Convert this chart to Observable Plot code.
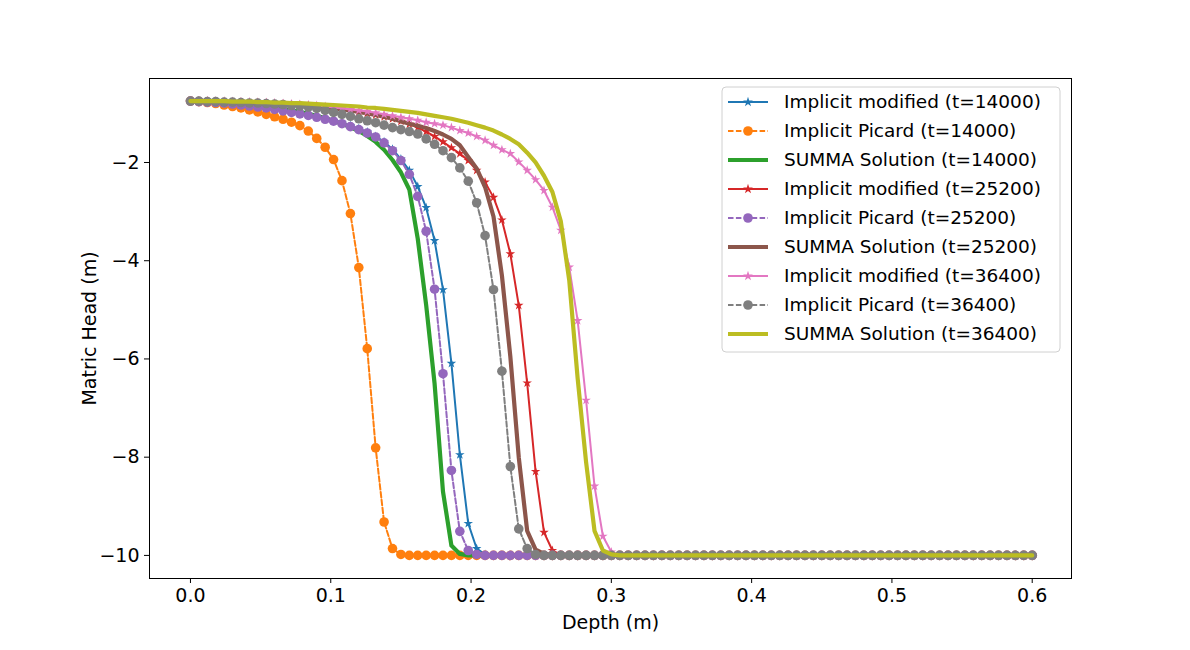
<!DOCTYPE html>
<html>
<head>
<meta charset="utf-8">
<script src="https://cdn.jsdelivr.net/npm/d3@7"></script>
<script src="https://cdn.jsdelivr.net/npm/@observablehq/plot@0.6"></script>
<style>
body { margin: 0; background: #fff; }
</style>
</head>
<body>
<div id="chart"></div>
<script>
// depth grid, 101 nodes from 0 to 0.6 m
const depth = d3.range(101).map(i => i * 0.006);

const modified14000 = [-0.75,-0.76,-0.77,-0.78,-0.79,-0.80,-0.82,-0.84,-0.86,-0.88,-0.91,-0.94,-0.97,-1.00,-1.03,-1.07,-1.11,-1.15,-1.20,-1.25,-1.31,-1.38,-1.47,-1.58,-1.73,-1.93,
  -2.16,-2.49,-2.92,-3.59,-4.59,-6.09,-7.95,-9.35,-9.86,-9.98,
  -10,-10,-10,-10,-10,-10,-10,-10,-10,-10, -10,-10,-10,-10,-10,-10,-10,-10,-10,-10, -10,-10,-10,-10,-10,-10,-10,-10,-10,-10,
  -10,-10,-10,-10,-10,-10,-10,-10,-10,-10, -10,-10,-10,-10,-10,-10,-10,-10,-10,-10, -10,-10,-10,-10,-10,-10,-10,-10,-10,-10, -10,-10,-10,-10,-10];
const picard14000 = [-0.75,-0.76,-0.78,-0.80,-0.83,-0.86,-0.89,-0.93,-0.97,-1.02,-1.07,-1.12,
  -1.18,-1.25,-1.36,-1.51,-1.69,-1.94,-2.37,-3.04,-4.14,-5.79,-7.81,-9.32,-9.86,-9.98,
  -10,-10,-10,-10,-10,-10,-10,-10,-10,-10, -10,-10,-10,-10,-10,-10,-10,-10,-10,-10, -10,-10,-10,-10,-10,-10,-10,-10,-10,-10,
  -10,-10,-10,-10,-10,-10,-10,-10,-10,-10, -10,-10,-10,-10,-10,-10,-10,-10,-10,-10, -10,-10,-10,-10,-10,-10,-10,-10,-10,-10,
  -10,-10,-10,-10,-10,-10,-10,-10,-10,-10, -10,-10,-10,-10,-10];
const summa14000 = [-0.75,-0.75,-0.76,-0.77,-0.78,-0.79,-0.80,-0.82,-0.84,-0.86,-0.88,-0.91,-0.94,-0.97,-1.01,-1.05,-1.10,-1.15,-1.21,-1.28,-1.36,-1.46,-1.58,-1.74,-1.95,-2.20,
  -2.55,-3.55,-4.90,-6.50,-8.70,-9.80,-9.97,
  -10,-10,-10,-10,-10,-10,-10,-10,-10,-10, -10,-10,-10,-10,-10,-10,-10,-10,-10,-10, -10,-10,-10,-10,-10,-10,-10,-10,-10,-10,
  -10,-10,-10,-10,-10,-10,-10,-10,-10,-10, -10,-10,-10,-10,-10,-10,-10,-10,-10,-10, -10,-10,-10,-10,-10,-10,-10,-10,-10,-10,
  -10,-10,-10,-10,-10,-10,-10,-10];
const modified25200 = [-0.75,-0.75,-0.75,-0.76,-0.76,-0.77,-0.77,-0.78,-0.78,-0.79,-0.80,-0.81,-0.82,-0.83,-0.84,-0.86,-0.88,-0.90,-0.92,-0.94,-0.97,-1.00,-1.03,-1.07,-1.11,-1.16,-1.22,-1.29,-1.37,-1.47,-1.58,-1.70,-1.82,-1.96,
  -2.16,-2.40,-2.71,-3.17,-3.86,-4.91,-6.49,-8.29,-9.53,-9.90,-9.99,
  -10,-10,-10,-10,-10,-10,-10,-10,-10,-10, -10,-10,-10,-10,-10,-10,-10,-10,-10,-10, -10,-10,-10,-10,-10,-10,-10,-10,-10,-10,
  -10,-10,-10,-10,-10,-10,-10,-10,-10,-10, -10,-10,-10,-10,-10,-10,-10,-10,-10,-10, -10,-10,-10,-10,-10,-10];
const picard25200 = [-0.75,-0.76,-0.77,-0.78,-0.79,-0.81,-0.83,-0.85,-0.87,-0.89,-0.92,-0.95,-0.98,-1.01,-1.04,-1.08,-1.12,-1.16,-1.21,
  -1.27,-1.33,-1.40,-1.48,-1.60,-1.76,-1.96,-2.24,-2.69,-3.40,-4.58,-6.30,-8.27,-9.51,-9.90,-9.98,
  -10,-10,-10,-10,-10,-10,-10,-10,-10,-10, -10,-10,-10,-10,-10,-10,-10,-10,-10,-10, -10,-10,-10,-10,-10,-10,-10,-10,-10,-10,
  -10,-10,-10,-10,-10,-10,-10,-10,-10,-10, -10,-10,-10,-10,-10,-10,-10,-10,-10,-10, -10,-10,-10,-10,-10,-10,-10,-10,-10,-10,
  -10,-10,-10,-10,-10,-10];
const summa25200 = [-0.75,-0.75,-0.75,-0.76,-0.76,-0.77,-0.77,-0.78,-0.78,-0.79,-0.80,-0.81,-0.82,-0.83,-0.84,-0.86,-0.88,-0.90,-0.92,-0.94,-0.97,-1.00,-1.03,-1.07,-1.11,-1.16,-1.21,-1.25,
  -1.30,-1.36,-1.43,-1.52,-1.65,-1.89,-2.12,-2.50,-3.10,-4.30,-5.95,-8.00,-9.50,-9.88,-9.97,
  -10,-10,-10,-10,-10,-10,-10,-10,-10,-10, -10,-10,-10,-10,-10,-10,-10,-10,-10,-10, -10,-10,-10,-10,-10,-10,-10,-10,-10,-10,
  -10,-10,-10,-10,-10,-10,-10,-10,-10,-10, -10,-10,-10,-10,-10,-10,-10,-10,-10,-10, -10,-10,-10,-10,-10,-10,-10,-10];
const modified36400 = [-0.75,-0.75,-0.75,-0.75,-0.76,-0.76,-0.77,-0.77,-0.78,-0.78,-0.79,-0.80,-0.81,-0.82,-0.83,-0.84,-0.86,-0.88,-0.90,-0.92,-0.94,-0.96,-0.99,-1.02,-1.05,-1.08,
  -1.11,-1.14,-1.18,-1.21,-1.24,-1.29,-1.35,-1.40,-1.47,-1.55,-1.65,-1.74,-1.82,-1.99,-2.16,-2.35,-2.57,-2.91,-3.38,-4.13,-5.22,-6.84,-8.59,-9.61,-9.93,-9.99,
  -10,-10,-10,-10,-10,-10,-10,-10,-10,-10, -10,-10,-10,-10,-10,-10,-10,-10,-10,-10, -10,-10,-10,-10,-10,-10,-10,-10,-10,-10,
  -10,-10,-10,-10,-10,-10,-10,-10,-10,-10, -10,-10,-10,-10,-10,-10,-10,-10,-10];
const picard36400 = [-0.75,-0.75,-0.76,-0.76,-0.77,-0.77,-0.78,-0.79,-0.79,-0.80,-0.81,-0.82,-0.84,-0.85,-0.87,-0.90,-0.94,-0.98,-1.02,-1.06,-1.11,-1.15,-1.19,-1.24,
  -1.29,-1.33,-1.37,-1.42,-1.52,-1.63,-1.76,-1.90,-2.11,-2.38,-2.82,-3.49,-4.59,-6.25,-8.19,-9.46,-9.86,-9.98,
  -10,-10,-10,-10,-10,-10,-10,-10,-10,-10, -10,-10,-10,-10,-10,-10,-10,-10,-10,-10, -10,-10,-10,-10,-10,-10,-10,-10,-10,-10,
  -10,-10,-10,-10,-10,-10,-10,-10,-10,-10, -10,-10,-10,-10,-10,-10,-10,-10,-10,-10, -10,-10,-10,-10,-10,-10,-10,-10,-10];
const summa36400 = [-0.75,-0.75,-0.75,-0.75,-0.75,-0.76,-0.76,-0.76,-0.77,-0.77,-0.78,-0.78,-0.79,-0.79,-0.80,-0.81,-0.82,-0.83,-0.84,-0.85,-0.86,-0.88,-0.89,-0.91,-0.93,-0.95,-0.97,-0.99,-1.02,-1.05,-1.08,-1.11,-1.15,-1.19,-1.24,-1.29,-1.35,-1.43,
  -1.52,-1.63,-1.80,-2.00,-2.27,-2.60,-3.20,-4.40,-6.40,-8.10,-9.50,-9.90,-9.98,
  -10,-10,-10,-10,-10,-10,-10,-10,-10,-10, -10,-10,-10,-10,-10,-10,-10,-10,-10,-10, -10,-10,-10,-10,-10,-10,-10,-10,-10,-10,
  -10,-10,-10,-10,-10,-10,-10,-10,-10,-10, -10,-10,-10,-10,-10,-10,-10,-10,-10,-10];

const xTicks = [0, 0.1, 0.2, 0.3, 0.4, 0.5, 0.6];
const yTicks = [-10, -8, -6, -4, -2];

// name, values, colour, kind
const series = [
  ["Implicit modified (t=14000)", modified14000, "#1f77b4", "mod"],
  ["Implicit Picard (t=14000)", picard14000, "#ff7f0e", "pic"],
  ["SUMMA Solution (t=14000)", summa14000, "#2ca02c", "summa"],
  ["Implicit modified (t=25200)", modified25200, "#d62728", "mod"],
  ["Implicit Picard (t=25200)", picard25200, "#9467bd", "pic"],
  ["SUMMA Solution (t=25200)", summa25200, "#8c564b", "summa"],
  ["Implicit modified (t=36400)", modified36400, "#e377c2", "mod"],
  ["Implicit Picard (t=36400)", picard36400, "#7f7f7f", "pic"],
  ["SUMMA Solution (t=36400)", summa36400, "#bcbd22", "summa"]
];

const marks = [Plot.frame({stroke: "black", strokeWidth: 1})];
for (const [name, vals, col, kind] of series) {
  const pts = vals.map((v, i) => ({x: depth[i], y: v}));
  if (kind === "summa") {
    marks.push(Plot.line(pts, {x: "x", y: "y", stroke: col, strokeWidth: 4.2}));
  } else if (kind === "pic") {
    marks.push(Plot.line(pts, {x: "x", y: "y", stroke: col, strokeWidth: 2, strokeDasharray: "5.5,2.4"}));
    marks.push(Plot.dot(pts, {x: "x", y: "y", fill: col, r: 4.8}));
  } else {
    marks.push(Plot.line(pts, {x: "x", y: "y", stroke: col, strokeWidth: 2}));
    marks.push(Plot.dot(pts, {x: "x", y: "y", fill: col, symbol: "star", r: 3}));
  }
}

const chart = Plot.plot({
  width: 1190,
  height: 650,
  marginLeft: 149,
  marginRight: 119,
  marginTop: 78,
  marginBottom: 72,
  style: {fontFamily: "DejaVu Sans", fontSize: "19px", color: "black", background: "white"},
  x: {domain: [-0.0292, 0.628], ticks: xTicks, tickFormat: d3.format(".1f"), tickSize: 5,
      label: "Depth (m)", labelAnchor: "center", labelArrow: "none", labelOffset: 50, tickPadding: 5},
  y: {domain: [-10.47, -0.29], ticks: yTicks, tickSize: 5, tickPadding: 5,
      label: "Matric Head (m)", labelAnchor: "center", labelArrow: "none", labelOffset: 67},
  marks
});
document.getElementById("chart").appendChild(chart);

// legend, matplotlib style, upper right
const svg = d3.select(chart);
const lg = svg.append("g").attr("font-family", "DejaVu Sans").attr("font-size", 18.5).attr("text-anchor", "start");
lg.append("rect").attr("x", 722).attr("y", 87).attr("width", 338).attr("height", 265)
  .attr("rx", 4).attr("fill", "white").attr("fill-opacity", 0.8).attr("stroke", "#d0d0d0");
series.forEach(([name, vals, col, kind], i) => {
  const cy = 102 + i * 29;
  const ln = lg.append("line").attr("x1", 728).attr("x2", 768).attr("y1", cy).attr("y2", cy)
    .attr("stroke", col).attr("stroke-width", kind === "summa" ? 4.2 : 2);
  if (kind === "pic") {
    ln.attr("stroke-dasharray", "5.5,2.4");
    lg.append("circle").attr("cx", 748).attr("cy", cy).attr("r", 4.8).attr("fill", col);
  } else if (kind === "mod") {
    lg.append("path").attr("d", d3.symbol(d3.symbolStar, 30)()).attr("transform", `translate(748,${cy})`).attr("fill", col);
  }
  lg.append("text").attr("x", 784).attr("y", cy).attr("dy", "0.35em").text(name);
});
</script>
</body>
</html>
